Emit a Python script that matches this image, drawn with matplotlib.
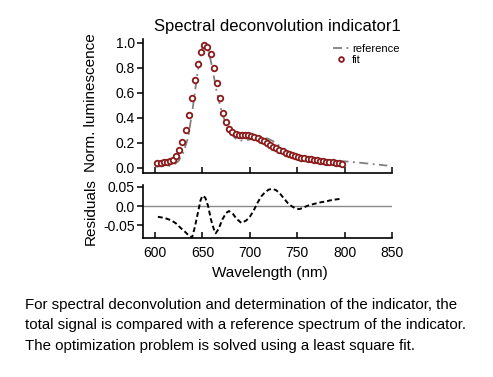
import numpy as np
import matplotlib
matplotlib.use('Agg')
import matplotlib.pyplot as plt

plt.rcParams['font.family'] = ['Liberation Sans', 'DejaVu Sans']

# fit points (open circles)
fit_nm = np.arange(602.5, 798, 3.3)
fit_val = [0.037, 0.043, 0.045, 0.047, 0.054, 0.067, 0.099, 0.144, 0.21, 0.30,
           0.42, 0.56, 0.70, 0.83, 0.93, 0.981, 0.968, 0.907, 0.80, 0.68,
           0.56, 0.44, 0.37, 0.31, 0.29, 0.27, 0.262, 0.262, 0.262, 0.26,
           0.255, 0.247, 0.237, 0.227, 0.214, 0.200, 0.186, 0.171, 0.157, 0.144,
           0.133, 0.123, 0.113, 0.104, 0.096, 0.089, 0.082, 0.077, 0.072, 0.068,
           0.064, 0.061, 0.057, 0.054, 0.051, 0.048, 0.045, 0.042, 0.038, 0.034]

# reference spectrum (dash-dot)
ref_nm = np.arange(600, 850, 5)
ref_val = [0.010, 0.014, 0.015, 0.017, 0.026, 0.058, 0.127, 0.245, 0.49, 0.77,
           0.967, 0.983, 0.815, 0.611, 0.46, 0.342, 0.275, 0.235, 0.219, 0.222,
           0.228, 0.238, 0.25, 0.246, 0.231, 0.212, 0.184, 0.153, 0.123, 0.100,
           0.083, 0.075, 0.073, 0.071, 0.069, 0.067, 0.064, 0.062, 0.059, 0.055,
           0.053, 0.050, 0.046, 0.043, 0.039, 0.035, 0.031, 0.027, 0.023, 0.019]

# residuals
res_nm = [603, 610, 617, 622, 627, 632, 636, 639, 642, 645, 648, 650, 653, 656,
          659, 662, 664, 667, 671, 675, 678, 682, 686, 691, 696, 700, 704, 708,
          712, 716, 720, 724, 728, 732, 736, 740, 744, 748, 752, 756, 760, 765,
          770, 775, 780, 785, 790, 796]
res_val = [-0.028, -0.031, -0.037, -0.045, -0.057, -0.068, -0.078, -0.082, -0.055,
           -0.02, 0.015, 0.027, 0.022, 0.0, -0.035, -0.06, -0.071, -0.06, -0.035,
           -0.018, -0.013, -0.02, -0.033, -0.044, -0.038, -0.028, -0.012, 0.008,
           0.025, 0.036, 0.043, 0.045, 0.041, 0.032, 0.02, 0.008, 0.0, -0.006,
           -0.008, -0.005, 0.0, 0.004, 0.007, 0.01, 0.012, 0.015, 0.017, 0.019]

W, H = 493, 377
fig = plt.figure(figsize=(W / 100, H / 100), dpi=100)

ax1 = fig.add_axes([143 / W, 1 - 173 / H, (392 - 143) / W, (173 - 39) / H])
ax2 = fig.add_axes([143 / W, 1 - 237.5 / H, (392 - 143) / W, (237.5 - 185) / H])

ax1.plot(ref_nm, ref_val, color='#808080', lw=1.3, ls=(0, (5, 2.5, 1, 2.5)), label='reference')
ax1.plot(fit_nm, fit_val, 'o', ms=4.0, mfc='white', mec='#8b1a1a', mew=1.3, label='fit')

ax2.axhline(0, color='#8a8a8a', lw=1)
ax2.plot(res_nm, res_val, color='black', lw=1.4, ls=(0, (2.5, 1.5)))

for ax in (ax1, ax2):
    ax.set_xlim(587.3, 850)
    ax.spines['top'].set_visible(False)
    ax.spines['right'].set_visible(False)
    ax.spines['left'].set_linewidth(1.2)
    ax.spines['bottom'].set_linewidth(1.2)
    ax.set_xticks([600, 650, 700, 750, 800, 850])
    ax.tick_params(axis='x', direction='in', length=4, width=1.1, labelsize=10)
    ax.tick_params(axis='y', direction='out', length=4, width=1.1, labelsize=10, pad=2)

ax1.set_ylim(-0.04, 1.03)
ax1.set_yticks([0.0, 0.2, 0.4, 0.6, 0.8, 1.0])
ax1.set_yticklabels(['0.0', '0.2', '0.4', '0.6', '0.8', '1.0'])
ax1.tick_params(axis='x', labelbottom=False)

ax2.set_ylim(-0.082, 0.055)
ax2.set_yticks([-0.05, 0.0, 0.05])
ax2.set_yticklabels(['-0.05', '0.0', '0.05'])
ax2.tick_params(axis='x', pad=6)

ax1.legend(loc='upper left', bbox_to_anchor=(333 / W, 1 - 44 / H),
           bbox_transform=fig.transFigure, frameon=False, fontsize=8,
           handlelength=1.4, handletextpad=0.3, labelspacing=0.05,
           borderpad=0, borderaxespad=0, markerscale=0.85)

fig.text(277 / W, 1 - 26 / H, 'Spectral deconvolution indicator1', ha='center', va='center', fontsize=12)
fig.text(91 / W, 1 - 103 / H, 'Norm. luminescence', rotation=90, ha='center', va='center', fontsize=11)
fig.text(91 / W, 1 - 212 / H, 'Residuals', rotation=90, ha='center', va='center', fontsize=11)
fig.text(270 / W, 1 - 273 / H, 'Wavelength (nm)', ha='center', va='center', fontsize=11)

caption = ['For spectral deconvolution and determination of the indicator, the',
           'total signal is compared with a reference spectrum of the indicator.',
           'The optimization problem is solved using a least square fit.']
for i, line in enumerate(caption):
    fig.text(25 / W, 1 - (305 + 20.5 * i) / H, line, ha='left', va='center', fontsize=10.8)

fig.savefig('out.png', dpi=100)
